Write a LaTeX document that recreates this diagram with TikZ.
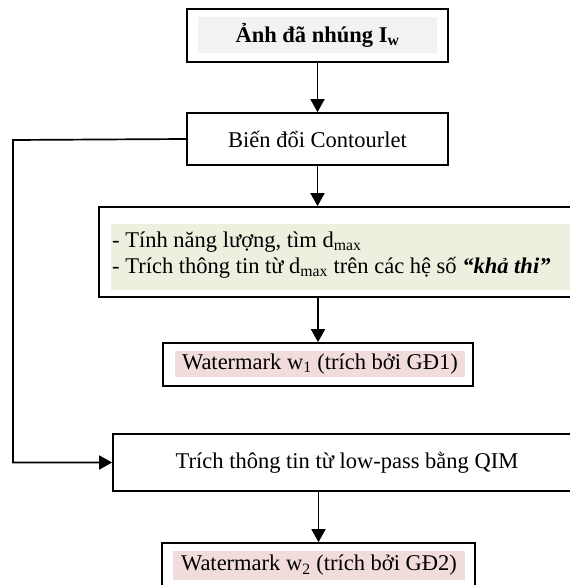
\documentclass[tikz,border=0pt]{standalone}
\usepackage{fontspec}
\setmainfont{Liberation Serif}
\usepackage{xcolor}
\usetikzlibrary{positioning,calc,arrows.meta}
\definecolor{fillgray}{HTML}{F2F2F2}
\definecolor{fillgreen}{HTML}{EBF1DE}
\definecolor{fillpink}{HTML}{F2DCDB}

\begin{document}
\begin{tikzpicture}[x=1pt,y=-1pt,
        font=\fontsize{22.5}{26}\selectfont,
        box/.style={draw, line width=1.7pt, inner sep=0pt},
        band/.style={inner sep=0pt},
        arr/.style={line width=1.7pt, -{Triangle[length=13pt,width=14pt]}}]
            \useasboundingbox (0,0) rectangle (569,585);

            \node[box, minimum width=261pt, minimum height=53pt] (anh) at (317.5,35.5) {};
            \node[band, fill=fillgray, minimum width=239pt, minimum height=36pt] (anht) at (317.5,35) {\textbf{Ảnh đã nhúng I\textsubscript{w}}};

            \node[box, minimum width=261pt, minimum height=52pt] (bien) at (317.5,139) {Biến đổi Contourlet};

            \node[box, minimum width=501pt, minimum height=90pt] (tinh) at (349.5,252) {};
            \node[band, fill=fillgreen, minimum width=479pt, minimum height=66pt] (tinhf) at (350.5,257) {};
            \node[band, anchor=west, align=left] (tinht) at (112,255) {- Tính năng lượng, tìm d\textsubscript{max}\\- Trích thông tin từ d\textsubscript{max} trên các hệ số \textbf{\textit{“khả thi”}}};

            \node[box, minimum width=310pt, minimum height=43pt] (wm1) at (318,364.5) {};
            \node[band, fill=fillpink, minimum width=290pt, minimum height=26pt] (wm1t) at (320,364) {Watermark w\textsubscript{1} (trích bởi GĐ1)};

            \node[box, minimum width=468pt, minimum height=57pt] (trich) at (347,462.5) {Trích thông tin từ low-pass bằng QIM};

            \node[box, minimum width=313pt, minimum height=67pt] (wm2) at (318.5,576.5) {};
            \node[band, fill=fillpink, minimum width=292pt, minimum height=29pt] (wm2t) at (319,565.5) {Watermark w\textsubscript{2} (trích bởi GĐ2)};

            \coordinate (fb) at (13,140);

            \draw[arr] (anh) -- (bien);
            \draw[arr] (bien.south) -- (bien.south |- tinh.north);
            \draw[arr] (tinh.south -| wm1.north) -- (wm1.north);
            \draw[arr] (wm2.north |- trich.south) -- (wm2.north);
            \draw[arr] (bien.west) -- (fb) |- (trich.west);
        \end{tikzpicture}
\end{document}
